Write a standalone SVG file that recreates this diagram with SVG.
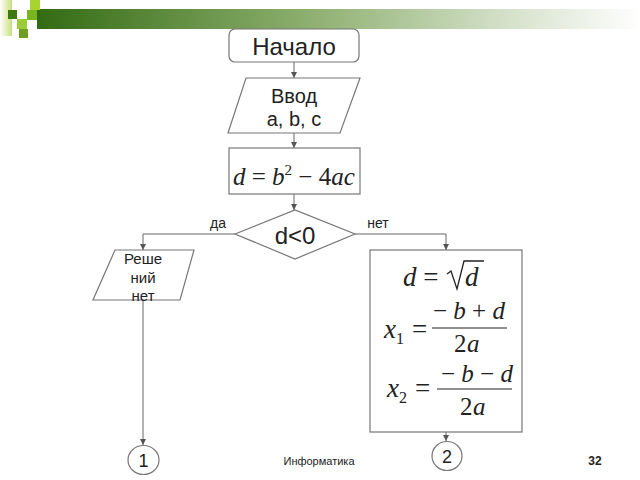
<svg xmlns="http://www.w3.org/2000/svg" width="640" height="480" viewBox="0 0 640 480">
<defs>
<linearGradient id="bar" x1="0" y1="0" x2="1" y2="0">
<stop offset="0" stop-color="#336b12"/>
<stop offset="0.45" stop-color="#8daf6f"/>
<stop offset="0.8" stop-color="#d9e4cf"/>
<stop offset="1" stop-color="#ffffff"/>
</linearGradient>
<linearGradient id="side" x1="0" y1="0" x2="1" y2="0">
<stop offset="0" stop-color="#ffffff"/>
<stop offset="1" stop-color="#c9e07a"/>
</linearGradient>
<marker id="ah" viewBox="0 0 6 6" refX="6" refY="3" markerWidth="6" markerHeight="6" orient="auto" markerUnits="userSpaceOnUse">
<path d="M0,0 L6,3 L0,6 z" fill="#555"/>
</marker>
<style>
.n{fill:#fff;stroke:#777;stroke-width:1.2}
.c{fill:none;stroke:#666;stroke-width:1;marker-end:url(#ah)}
.t{font-family:"Liberation Sans",Arial,sans-serif;fill:#222;text-anchor:middle}
.m{font-family:"Liberation Serif","Times New Roman",serif;fill:#222;font-style:italic}
.r{font-family:"Liberation Serif","Times New Roman",serif;fill:#222;font-style:normal}
</style>
</defs>
<rect width="640" height="480" fill="#fff"/>
<g id="banner">
<rect x="0" y="0" width="12" height="36" fill="url(#side)"/>
<rect x="37" y="9" width="603" height="20" fill="url(#bar)"/>
<rect x="30" y="0" width="10" height="10" fill="#a8d430"/>
<rect x="27" y="10" width="10" height="10" fill="#79b51e"/>
<rect x="8" y="10" width="9" height="9" fill="#3d7a10"/>
<rect x="17" y="19" width="10" height="10" fill="#9ccc3a"/>
<rect x="19" y="29" width="9" height="9" fill="#6e9e22"/>
</g>
<g id="connectors">
<path class="c" d="M294,62 V78"/>
<path class="c" d="M294,133 V148"/>
<path class="c" d="M294,194 V210"/>
<path class="c" d="M235,234 H143 V250"/>
<path class="c" d="M355,234 H446 V250"/>
<path class="c" d="M143,300 V445"/>
<path class="c" d="M446,432 V441"/>
</g>
<g id="start">
<rect class="n" x="229" y="29" width="130" height="33" rx="6"/>
<text class="t" x="294" y="55" font-size="24">Начало</text>
</g>
<g id="input">
<polygon class="n" points="246,78 360,78 340,133 228,133"/>
<text class="t" x="294" y="103" font-size="20">Ввод</text>
<text class="t" x="294" y="126" font-size="20">a, b, c</text>
</g>
<g id="calc">
<rect class="n" x="229" y="148" width="131" height="46"/>
<text class="m" x="233" y="185" font-size="25">d <tspan class="r">=</tspan> b<tspan dy="-10" font-size="15" class="r">2</tspan><tspan dy="10" class="r"> − 4</tspan>ac</text>
</g>
<g id="decision">
<polygon class="n" points="235,234 295,210 355,234 295,259"/>
<text class="t" x="295" y="244" font-size="24">d&lt;0</text>
<text class="t" x="218" y="228" font-size="14" fill="#333">да</text>
<text class="t" x="378" y="228" font-size="14" fill="#333">нет</text>
</g>
<g id="nosol">
<polygon class="n" points="115,250 194,250 180,300 93,300"/>
<text class="t" x="143" y="264" font-size="15" fill="#333">Реше</text>
<text class="t" x="143" y="283" font-size="15" fill="#333">ний</text>
<text class="t" x="143" y="301" font-size="15" fill="#333">нет</text>
</g>
<g id="roots">
<rect class="n" x="370" y="250" width="152" height="182"/>
<text class="m" x="403" y="286" font-size="27">d <tspan class="r">=</tspan></text>
<path d="M447,274 L451,271 L457,289 L464,261 L484,261" fill="none" stroke="#222" stroke-width="1.3"/>
<text class="m" x="465" y="286" font-size="27">d</text>
<text class="m" x="384" y="338" font-size="27">x<tspan class="r" font-size="16" dy="6">1</tspan><tspan class="r" dy="-6" dx="8">=</tspan></text>
<line x1="432" y1="328" x2="507" y2="328" stroke="#222" stroke-width="1.2"/>
<text class="m" x="433" y="319" font-size="25"><tspan class="r">− </tspan>b<tspan class="r"> + </tspan>d</text>
<text class="r" x="454" y="352" font-size="25">2</text>
<text class="m" x="467" y="352" font-size="25">a</text>
<text class="m" x="387" y="397" font-size="27">x<tspan class="r" font-size="16" dy="6">2</tspan><tspan class="r" dy="-6" dx="8">=</tspan></text>
<line x1="437" y1="389" x2="512" y2="389" stroke="#222" stroke-width="1.2"/>
<text class="m" x="441" y="382" font-size="25"><tspan class="r">− </tspan>b<tspan class="r"> − </tspan>d</text>
<text class="r" x="460" y="415" font-size="25">2</text>
<text class="m" x="473" y="415" font-size="25">a</text>
</g>
<g id="conn1">
<ellipse class="n" cx="143.5" cy="460" rx="15.5" ry="14.5"/>
<text class="t" x="143.5" y="467" font-size="18">1</text>
</g>
<g id="conn2">
<ellipse class="n" cx="447" cy="456" rx="15" ry="14.5"/>
<text class="t" x="447" y="463" font-size="18">2</text>
</g>
<text class="t" x="319" y="465" font-size="11" fill="#666">Информатика</text>
<text class="t" x="595" y="465" font-size="12" font-weight="bold" fill="#333">32</text>
</svg>
